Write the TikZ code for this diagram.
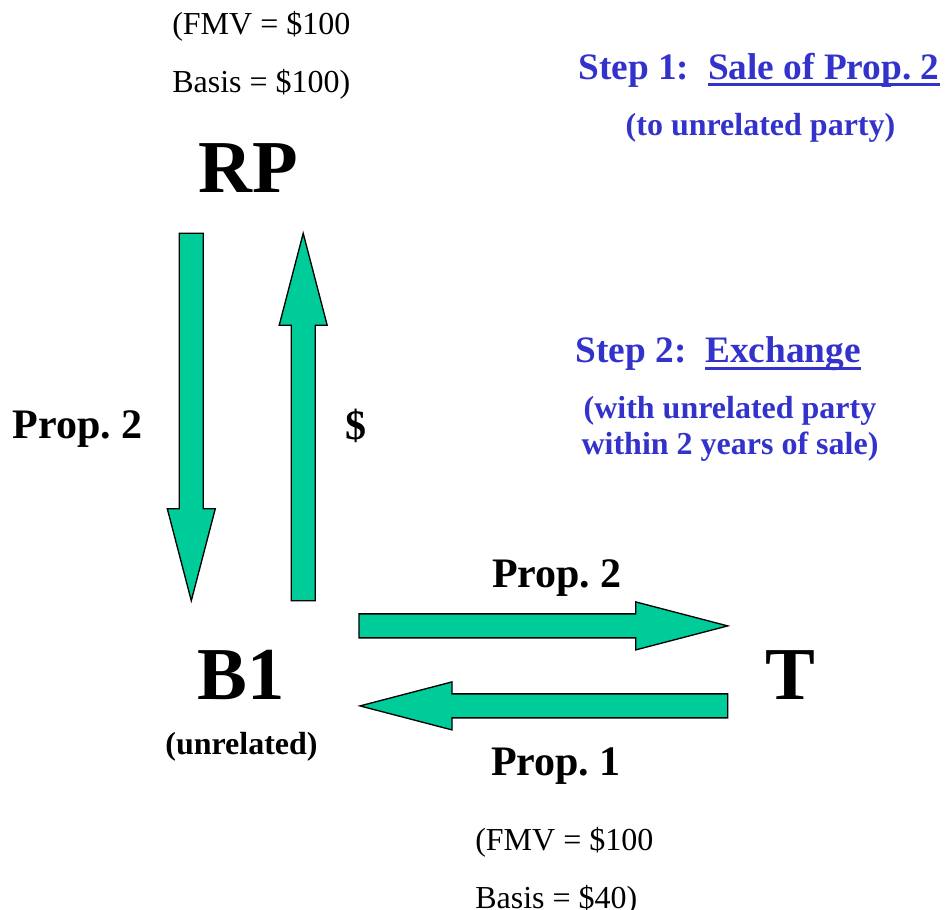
\documentclass[tikz,border=0pt]{standalone}
\usepackage{fontspec}
\setmainfont{Liberation Serif}
\usepackage{xcolor}
\usetikzlibrary{calc}
\frenchspacing

\definecolor{propgreen}{RGB}{0,204,153}
\definecolor{stepblue}{RGB}{51,51,204}

\newcommand{\ulined}[1]{\setbox0=\hbox{#1}\rlap{\vrule height -3.3pt depth 5.2pt width \wd0}\box0}

% block arrow from tail coordinate #1 to tip coordinate #2
\newcommand{\blockarrow}[2]{%
\draw [blockarrow] ($(#1)!9pt!90:(#2)$) -- ($(#2)!69pt!(#1)!9pt!90:(#2)$) -- ($(#2)!69pt!(#1)!18pt!90:(#2)$) -- (#2) -- ($(#2)!69pt!(#1)!18pt!-90:(#2)$) -- ($(#2)!69pt!(#1)!9pt!-90:(#2)$) -- ($(#1)!9pt!-90:(#2)$) -- cycle ;}

\tikzset{
  blockarrow/.style={fill=propgreen, draw=black, line width=1pt},
  party/.style={inner sep=0pt, anchor=base, font=\bfseries\fontsize{56}{60}\selectfont},
  flowlabel/.style={inner sep=0pt, anchor=base, font=\bfseries\fontsize{31.5}{36}\selectfont},
  valuenote/.style={inner sep=0pt, anchor=base west, align=left, font=\fontsize{24}{43.5}\selectfont},
  steptitle/.style={inner sep=0pt, anchor=base, text=stepblue, font=\bfseries\fontsize{28}{32}\selectfont},
  stepnote/.style={inner sep=0pt, anchor=base, align=center, text=stepblue, font=\bfseries\fontsize{24}{27}\selectfont}
}

\begin{document}
\begin{tikzpicture}[x=0.75pt,y=0.75pt,yscale=-1,xscale=1]
\useasboundingbox (0,0) rectangle (946,910);

% Text Node
\draw (248.3,192) node [party] (rp) {RP};
% Text Node
\draw (241.3,699) node [party] (bone) {B1};
% Text Node
\draw (790.5,699) node [party] (tp) {T};
% Text Node
\draw (241.5,754) node [inner sep=0pt, anchor=base, font=\bfseries\fontsize{24}{28}\selectfont] (unrel) {(unrelated)};
% Text Node (base is the last line)
\draw (172,92.3) node [valuenote] (rpvals) {(FMV = \$100\\Basis = \$100)};
% Text Node
\draw (475,908.3) node [valuenote] (tvals) {(FMV = \$100\\Basis = \$40)};
% Text Node
\draw (77.4,438.7) node [flowlabel] (sold) {Prop. 2};
% Text Node
\draw (356,439) node [flowlabel] (cash) {\$};
% Text Node
\draw (557,587.7) node [flowlabel] (given) {Prop. 2};
% Text Node
\draw (556,775) node [flowlabel] (got) {Prop. 1};
% Text Node
\draw (759,79) node [steptitle] (stepone) {Step 1:\ \ \ulined{Sale of Prop. 2}};
% Text Node
\draw (760.5,135) node [stepnote] (steponenote) {(to unrelated party)};
% Text Node
\draw (718.3,362.7) node [steptitle] (steptwo) {Step 2:\ \ \ulined{Exchange}};
% Text Node
\draw (730,454.3) node [stepnote] (steptwonote) {(with unrelated party\\within 2 years of sale)};

% Arrow ends
\coordinate (soldtail) at (191.3,233.3);
\coordinate (soldtip) at (191.3,600.7);
\coordinate (cashtail) at (303.2,600.7);
\coordinate (cashtip) at (303.2,233.3);
\coordinate (giventail) at (359,625.9);
\coordinate (giventip) at (727.7,625.9);
\coordinate (gottail) at (727.7,705.9);
\coordinate (gottip) at (360,705.9);

% Connection
\blockarrow{soldtail}{soldtip}
% Connection
\blockarrow{cashtail}{cashtip}
% Connection
\blockarrow{giventail}{giventip}
% Connection
\blockarrow{gottail}{gottip}

\end{tikzpicture}
\end{document}
